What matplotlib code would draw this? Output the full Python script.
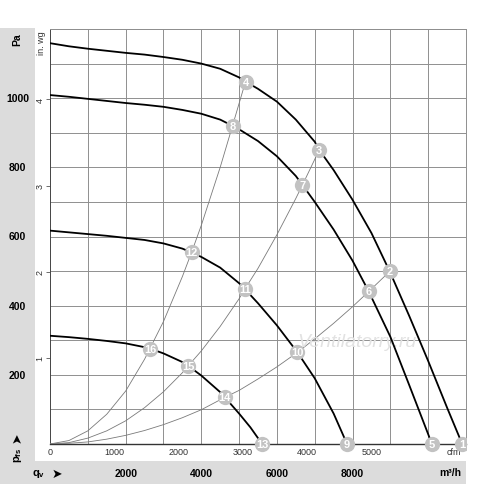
import matplotlib
matplotlib.use('Agg')
import matplotlib.pyplot as plt
import matplotlib.transforms as mtrans
from matplotlib.patches import Rectangle
import numpy as np

plt.rcParams['font.family'] = ['Liberation Sans', 'DejaVu Sans']
plt.rcParams['mathtext.fontset'] = 'custom'
plt.rcParams['mathtext.rm'] = 'Liberation Sans'
plt.rcParams['mathtext.bf'] = 'Liberation Sans:bold'

##########################
# fan curves, qv in m3/h, pfs in Pa
curve1_q = [0, 500, 1000, 1500, 2000, 2500, 3000, 3500, 4000, 4500, 5000, 5170, 5500, 6000,
            6500, 7000, 7116, 7500, 8000, 8500, 8983, 9500, 10000, 10500, 10900]
curve1_p = [1159, 1150, 1143, 1137, 1131, 1126, 1119, 1111, 1100, 1085, 1060, 1048, 1027, 990,
            938, 874, 851, 792, 706, 610, 499, 370, 240, 105, 0]
curve2_q = [0, 500, 1000, 1500, 2000, 2500, 3000, 3500, 4000, 4500, 4826, 5000, 5500, 6000,
            6500, 6675, 7000, 7500, 8000, 8428, 9000, 9500, 10100]
curve2_p = [1009, 1004, 998, 992, 986, 981, 975, 966, 955, 938, 920, 910, 876, 832,
            775, 749, 700, 620, 530, 441, 310, 170, 0]
curve3_q = [0, 500, 1000, 1500, 2000, 2500, 3000, 3500, 3743, 4000, 4500, 5000, 5152, 5500,
            6000, 6543, 7000, 7500, 7855]
curve3_p = [617, 612, 607, 602, 596, 590, 580, 565, 554, 541, 510, 465, 448, 407,
            343, 265, 190, 88, 0]
curve4_q = [0, 500, 1000, 1500, 2000, 2500, 2642, 3000, 3500, 3655, 4000, 4500, 4624, 5000, 5300, 5610]
curve4_p = [313, 309, 304, 298, 291, 280, 276, 262, 237, 226, 198, 150, 135, 88, 48, 0]

# system curves (thin gray)
sys1_q = [0, 500, 1000, 1500, 2000, 2500, 2642, 3000, 3500, 3743, 4000, 4500, 4826, 5170]
sys1_p = [0, 10, 38, 86, 153, 245, 276, 354, 484, 554, 632, 800, 920, 1048]
sys2_q = [0, 500, 1000, 1500, 2000, 2500, 3000, 3500, 3655, 4000, 4500, 5000, 5152, 5500,
          6000, 6500, 6675, 7000, 7116]
sys2_p = [0, 4, 17, 38, 67, 105, 151, 206, 226, 269, 340, 420, 448, 508,
          605, 710, 749, 823, 851]
sys3_q = [0, 500, 1000, 1500, 2000, 2500, 3000, 3500, 4000, 4624, 5000, 5500, 6000, 6543,
          7000, 7500, 8000, 8428, 8983]
sys3_p = [0, 2, 6, 14, 25, 39, 56, 76, 99, 135, 155, 188, 223, 265,
          304, 349, 397, 441, 499]

# operating points
pt_num = [4, 3, 2, 1, 8, 7, 6, 5, 12, 11, 10, 9, 16, 15, 14, 13]
pt_q = [5170, 7116, 8983, 10900, 4826, 6675, 8428, 10100, 3743, 5152, 6543, 7855, 2642, 3655, 4624, 5610]
pt_p = [1048, 851, 499, 0, 920, 749, 441, 0, 554, 448, 265, 0, 276, 226, 135, 0]

pa_labels = [200, 400, 600, 800, 1000]
inwg_ticks = [1, 2, 3, 4]
cfm_ticks = [0, 1000, 2000, 3000, 4000, 5000]
m3h_labels = [2000, 4000, 6000, 8000]
PA_PER_INWG = 249.09
M3H_PER_CFM = 1.699
#########################

W, H = 500, 485
fig = plt.figure(figsize=(W / 100, H / 100), dpi=100)
ax = fig.add_axes([50 / W, 40 / H, 416 / W, 415 / H])

# gray bands
fig.add_artist(Rectangle((0, 0), 34.7 / W, (H - 29) / H, transform=fig.transFigure,
                         facecolor='#dcdcdc', edgecolor='none', zorder=-1))
fig.add_artist(Rectangle((0, 0), 466 / W, 23 / H, transform=fig.transFigure,
                         facecolor='#dcdcdc', edgecolor='none', zorder=-1))

ax.set_xlim(0, 11000)
ax.set_ylim(0, 1200)

# grid
ax.set_xticks(np.arange(0, 11001, 1000), minor=True)
ax.set_yticks(np.arange(0, 1201, 100), minor=True)
ax.grid(True, which='minor', color='#8f8f8f', lw=0.7)
ax.grid(False, which='major')
ax.tick_params(which='minor', length=0)
for s in ax.spines.values():
    s.set_color('#8f8f8f')
    s.set_linewidth(0.7)
ax.spines['left'].set_color('#444444')
ax.spines['bottom'].set_color('#333333')
ax.spines['bottom'].set_linewidth(1.0)

# in. wg ticks on the left
ax.set_yticks([v * PA_PER_INWG for v in inwg_ticks])
ax.set_yticklabels([str(v) for v in inwg_ticks], rotation=90, va='center', fontsize=6.5, color='#333333')
ax.tick_params(axis='y', which='major', length=3, pad=1, color='#555555', width=0.6)

# cfm ticks on the bottom
ax.set_xticks([v * M3H_PER_CFM for v in cfm_ticks])
ax.set_xticklabels([str(v) for v in cfm_ticks], fontsize=6.5, color='#333333')
ax.tick_params(axis='x', which='major', length=0, pad=2.5)

# curves
for q, p in [(sys1_q, sys1_p), (sys2_q, sys2_p), (sys3_q, sys3_p)]:
    ax.plot(q, p, color='#7a7a7a', lw=0.6, zorder=3)
for q, p in [(curve1_q, curve1_p), (curve2_q, curve2_p), (curve3_q, curve3_p), (curve4_q, curve4_p)]:
    ax.plot(q, p, color='black', lw=1.3, zorder=4, solid_joinstyle='round')

ax.text(8111, 295, 'Ventilatorry.ru', fontsize=14, style='italic', color='#e2e2e2',
        ha='center', va='center', zorder=3.5)

# cfm unit text
ax.text(1.0 - 12 / 416, -8 / 415, 'cfm', transform=ax.transAxes, fontsize=6.5, color='#333333',
        ha='center', va='center')

# markers, clipped at right edge only
clip = Rectangle((-0.1, -0.1), 1.1, 1.2, transform=ax.transAxes)
mk, = ax.plot(pt_q, pt_p, 'o', ms=11, color='#c2c2c2', mec='none', zorder=6)
mk.set_clip_path(clip)
for n, q, p in zip(pt_num, pt_q, pt_p):
    t = ax.text(q, p, str(n), color='white', fontsize=8, fontweight='bold',
                ha='center', va='center', zorder=7)
    t.set_clip_path(clip)

# Pa labels in the left band
tr = mtrans.blended_transform_factory(fig.transFigure, ax.transData)
for v in pa_labels:
    ax.text(17.5 / W, v, str(v), transform=tr, fontsize=7.5, fontweight='bold',
            ha='center', va='center')
fig.text(17.5 / W, 1 - 40 / H, 'Pa', fontsize=7.5, fontweight='bold', rotation=90,
         ha='center', va='center')
fig.text(42 / W, 1 - 31 / H, 'in. wg', fontsize=6.5, rotation=90, color='#333333',
         ha='center', va='top')
fig.text(17.5 / W, 1 - 455 / H, r'p$_\mathbf{fs}$', fontsize=8, fontweight='bold', rotation=90,
         ha='center', va='center')
fig.text(17.5 / W, 1 - 438 / H, '➤', fontsize=9, rotation=90, ha='center', va='center',
         family=['DejaVu Sans'])

# m3/h labels in the bottom band
trx = mtrans.blended_transform_factory(ax.transData, fig.transFigure)
for v in m3h_labels:
    ax.text(v, 1 - 474 / H, str(v), transform=trx, fontsize=7.5, fontweight='bold',
            ha='center', va='center')
fig.text(461 / W, 1 - 473 / H, 'm³/h', fontsize=7.5, fontweight='bold', ha='right', va='center')
fig.text(39 / W, 1 - 474 / H, r'q$_\mathbf{v}$', fontsize=8, fontweight='bold', ha='center', va='center')
fig.text(57 / W, 1 - 474 / H, '➤', fontsize=9, ha='center', va='center', family=['DejaVu Sans'])

plt.savefig('out.png', dpi=100)
